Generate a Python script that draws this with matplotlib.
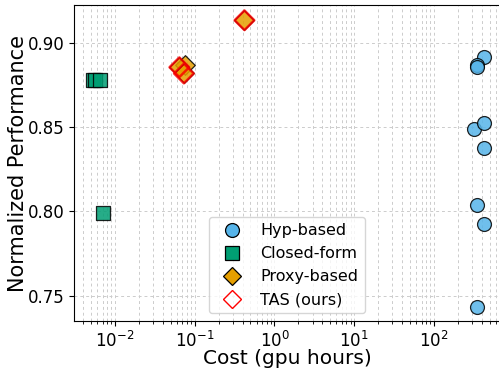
import numpy as np
import matplotlib.pyplot as plt
from matplotlib.lines import Line2D

# cost (gpu hours) and normalized performance for each method family
hyp_cost = [422, 350, 345, 316, 422, 422, 348, 422, 348]
hyp_perf = [0.8917, 0.8872, 0.8856, 0.8488, 0.8524, 0.8377, 0.8038, 0.7925, 0.7435]

closed_cost = [0.0053, 0.0056, 0.0064, 0.0070]
closed_perf = [0.8779, 0.8779, 0.8783, 0.7990]

proxy_cost = [0.076, 0.064, 0.073, 0.42]
proxy_perf = [0.8872, 0.8856, 0.8819, 0.9135]

tas_cost = [0.064, 0.073, 0.42]
tas_perf = [0.8856, 0.8819, 0.9135]

labels = ['Hyp-based', 'Closed-form', 'Proxy-based', 'TAS (ours)']

blue = '#56B4E9'
green = '#009E73'
orange = '#E69F00'

fig = plt.figure(figsize=(4.99, 3.68), dpi=100)
ax = fig.add_axes([0.1483, 0.1264, 0.8537, 0.8592])

ax.scatter(hyp_cost, hyp_perf, s=100, marker='o', color=blue, alpha=0.85,
           edgecolors='black', linewidths=0.9, zorder=3)
ax.scatter(closed_cost, closed_perf, s=100, marker='s', color=green, alpha=0.85,
           edgecolors='black', linewidths=0.9, zorder=3)
ax.scatter(proxy_cost, proxy_perf, s=100, marker='D', color=orange, alpha=0.85,
           edgecolors='black', linewidths=0.9, zorder=3)
ax.scatter(tas_cost, tas_perf, s=100, marker='D', facecolors='none',
           edgecolors='red', linewidths=1.8, alpha=0.8, zorder=4)

ax.set_xscale('log')
ax.set_xlim(0.00305, 676)
ax.set_ylim(0.7346, 0.9224)
ax.set_yticks([0.75, 0.80, 0.85, 0.90])

ax.grid(True, which='both', linestyle=(0, (3, 3)), color='#cccccc', linewidth=0.7)
ax.set_axisbelow(True)
ax.spines['right'].set_visible(False)

ax.tick_params(axis='both', which='major', labelsize=12)
ax.set_xlabel('Cost (gpu hours)', fontsize=14.5, labelpad=-2)
ax.set_ylabel('Normalized Performance', fontsize=15, labelpad=0)

# legend with solid markers
handles = [
    Line2D([], [], marker='o', linestyle='none', markersize=10,
           markerfacecolor=blue, markeredgecolor='black', markeredgewidth=0.9),
    Line2D([], [], marker='s', linestyle='none', markersize=10,
           markerfacecolor=green, markeredgecolor='black', markeredgewidth=0.9),
    Line2D([], [], marker='D', linestyle='none', markersize=9,
           markerfacecolor=orange, markeredgecolor='black', markeredgewidth=0.9),
    Line2D([], [], marker='D', linestyle='none', markersize=9,
           markerfacecolor='none', markeredgecolor='red', markeredgewidth=1.0),
]
ax.legend(handles, labels, loc='lower center', fontsize=11.5, framealpha=0.8)

fig.savefig('out.png', dpi=100)
